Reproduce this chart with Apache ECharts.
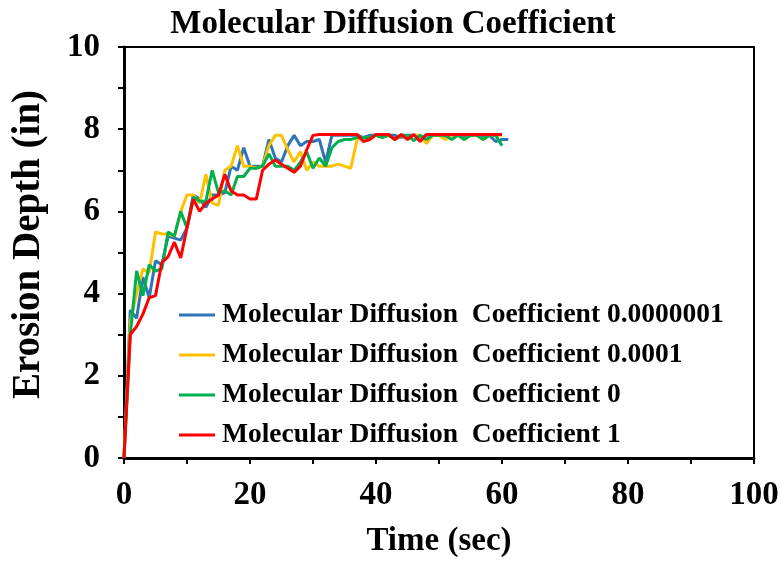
<!DOCTYPE html>
<html>
<head>
<meta charset="utf-8">
<script src="https://cdn.jsdelivr.net/npm/echarts@6/dist/echarts.min.js"></script>
<style>html,body{margin:0;padding:0;background:#fff}#c{width:782px;height:563px}</style>
</head>
<body>
<div id="c"></div>
<script>
const seriesNames = [
  "Molecular Diffusion  Coefficient 0.0000001",
  "Molecular Diffusion  Coefficient 0.0001",
  "Molecular Diffusion  Coefficient 0",
  "Molecular Diffusion  Coefficient 1"
];
const blueVals = [0,3.6,3.4,4.4,3.9,4.8,4.7,5.4,5.35,5.3,5.6,6.4,6.3,6.1,6.4,6.4,6.45,7.1,7.0,7.55,7.1,7.1,7.1,7.75,7.3,7.2,7.6,7.85,7.6,7.7,7.7,7.75,7.2,7.85,7.85,7.85,7.85,7.85,7.8,7.85,7.85,7.8,7.85,7.85,7.8,7.85,7.85,7.8,7.85,7.85,7.85,7.8,7.85,7.85,7.8,7.85,7.85,7.8,7.85,7.7,7.75,7.75];
const yellowVals = [0,3.3,4.0,4.6,4.5,5.5,5.45,5.45,5.4,6.0,6.4,6.4,6.2,6.9,6.2,6.15,7.0,7.1,7.6,7.1,7.1,7.05,7.1,7.6,7.85,7.85,7.5,7.2,7.45,7.0,7.2,7.1,7.1,7.1,7.15,7.1,7.05,7.75,7.8,7.75,7.85,7.8,7.85,7.75,7.85,7.8,7.85,7.85,7.65,7.85,7.85,7.75,7.85,7.85,7.75,7.85,7.85,7.75,7.85,7.85,7.85];
const greenVals = [0,3.0,4.55,3.95,4.7,4.55,4.6,5.5,5.4,6.0,5.6,6.35,6.25,6.25,7.0,6.45,6.5,6.4,6.85,6.85,7.05,7.05,7.1,7.4,7.1,7.1,7.1,7.0,7.2,7.45,7.05,7.3,7.1,7.55,7.7,7.75,7.75,7.8,7.8,7.8,7.85,7.8,7.85,7.75,7.85,7.85,7.72,7.85,7.75,7.85,7.85,7.85,7.75,7.85,7.75,7.85,7.85,7.75,7.85,7.85,7.6];
const redVals = [0,3.0,3.2,3.5,3.9,3.95,4.75,4.9,5.25,4.87,5.6,6.3,6.0,6.2,6.3,6.4,6.9,6.5,6.4,6.4,6.3,6.3,7.0,7.15,7.25,7.15,7.05,6.95,7.1,7.5,7.85,7.87,7.87,7.87,7.87,7.87,7.87,7.87,7.7,7.75,7.87,7.87,7.87,7.75,7.87,7.75,7.87,7.7,7.87,7.87,7.87,7.87,7.87,7.87,7.87,7.87,7.87,7.87,7.87,7.87,7.87];
const allVals = [blueVals, yellowVals, greenVals, redVals];
const colors = ["#2E75B6", "#FFC000", "#00B050", "#FF0000"];

const font = "'Liberation Serif','Times New Roman',serif";
const chart = echarts.init(document.getElementById('c'));
chart.setOption({
  animation: false,
  title: {
    text: "Molecular Diffusion Coefficient",
    left: 388, top: 3, textAlign: 'center',
    textStyle: {fontFamily: font, fontWeight: 'bold', fontSize: 33, color: '#000'}
  },
  legend: {
    orient: 'vertical', left: 174, top: 296, itemGap: 12,
    itemWidth: 36, itemHeight: 3, icon: 'rect',
    textStyle: {fontFamily: font, fontWeight: 'bold', fontSize: 27.5, color: '#000', padding: [0, 0, 0, 2]},
    data: seriesNames
  },
  grid: {left: 124, right: 28, top: 47, bottom: 101, show: true, borderColor: '#000', borderWidth: 2},
  xAxis: {
    type: 'value', min: 0, max: 100, interval: 10,
    name: 'Time (sec)', nameLocation: 'middle', nameGap: 67,
    nameTextStyle: {fontFamily: font, fontWeight: 'bold', fontSize: 33, color: '#000'},
    axisLine: {lineStyle: {color: '#000', width: 3}},
    axisTick: {show: true, length: 6, lineStyle: {color: '#000', width: 2}},
    axisLabel: {fontFamily: font, fontWeight: 'bold', fontSize: 33, color: '#000', margin: 21,
      formatter: v => (v % 20 === 0 ? String(v) : '')},
    splitLine: {show: false}
  },
  yAxis: {
    type: 'value', min: 0, max: 10, interval: 1,
    name: 'Erosion Depth (in)', nameLocation: 'middle', nameGap: 76, nameRotate: 90,
    nameTextStyle: {fontFamily: font, fontWeight: 'bold', fontSize: 39, color: '#000', padding: [0, 0, 0, 16]},
    axisLine: {show: true, lineStyle: {color: '#000', width: 3}},
    axisTick: {show: true, length: 6, lineStyle: {color: '#000', width: 2}},
    axisLabel: {fontFamily: font, fontWeight: 'bold', fontSize: 33, color: '#000', margin: 24,
      formatter: v => (v % 2 === 0 ? String(v) : '')},
    splitLine: {show: false}
  },
  series: seriesNames.map((n, i) => ({
    name: n, type: 'line', symbol: 'none', color: colors[i],
    lineStyle: {width: 3, color: colors[i]},
    data: allVals[i].map((v, t) => [t, v])
  }))
});
</script>
</body>
</html>
